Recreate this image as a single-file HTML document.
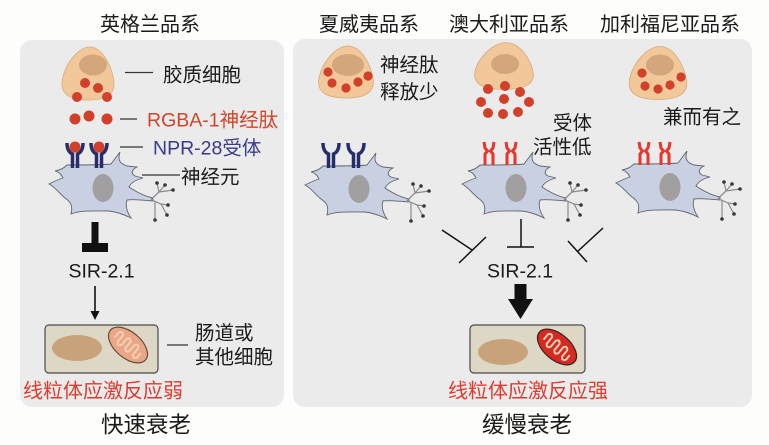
<!DOCTYPE html>
<html><head><meta charset="utf-8"><style>
html,body{margin:0;padding:0;background:#fdfdfb;}
svg{display:block;}
text{font-family:"Liberation Sans","Noto Sans CJK SC",sans-serif;fill:#1a1a1a;}
</style></head><body>
<svg width="769" height="445" viewBox="0 0 769 445" xmlns="http://www.w3.org/2000/svg">
<defs>
  <g id="neuron">
    <path d="M -36,-23 C -20,-23 0,-23 8,-24 L 17,-36 C 14,-27 18,-24 24,-22 L 34,-21 C 28,-18 28,-14 32,-12 L 40,-10 C 32,-8 28,-5 26,-1 C 32,3 40,8 50,10 L 50,13 C 40,12 30,11 24,12 C 22,18 24,24 28,30 C 20,26 14,24 6,23 C -10,23 -22,22 -32,26 C -30,18 -32,14 -38,10 C -44,5 -48,-1 -54,-4 C -48,-7 -44,-9 -40,-10 C -42,-14 -44,-16 -48,-17 C -42,-18 -39,-20 -36,-23 Z" fill="#c9d0e2" stroke="#5f646e" stroke-width="0.9"/>
    <ellipse cx="0" cy="0" rx="10.5" ry="14" fill="#a19f9f"/>
    <g stroke="#8a8a8a" stroke-width="1.2" fill="none">
      <path d="M 48,11.5 L 56,4 L 54,-5"/>
      <path d="M 56,4 L 62,-3"/>
      <path d="M 56,4 L 70,2"/>
      <path d="M 48,11.5 L 58,16 L 65,17"/>
      <path d="M 58,16 L 64,27"/>
      <path d="M 52,13 L 52,32"/>
    </g>
    <g fill="#3a3530">
      <circle cx="54" cy="-5" r="1.8"/><circle cx="62" cy="-3" r="1.8"/><circle cx="70" cy="2" r="1.8"/>
      <circle cx="65" cy="17" r="1.8"/><circle cx="64" cy="27" r="1.8"/><circle cx="52" cy="32" r="1.8"/>
    </g>
  </g>
  <g id="yrec">
    <path d="M -8,0 C -8,7 -5,10 -2.5,11 L -2.5,25 M 8,0 C 8,7 5,10 2.5,11 L 2.5,25" fill="none" stroke="#262d6b" stroke-width="3.5"/>
  </g>
  <g id="rrec">
    <path d="M -5,0 L -4,6 L -1.5,9 L -4,12 L -4,23 M 5,0 L 4,6 L 1.5,9 L 4,12 L 4,23" fill="none" stroke="#e8342b" stroke-width="3"/>
  </g>
  <path id="glia" d="M 2,-26 C 14,-26 24,-10 27,6 C 30,22 16,26 0,26 C -16,26 -30,22 -27,6 C -24,-10 -10,-26 2,-26 Z" fill="#f2c89a" stroke="#d9a878" stroke-width="0.8"/>
  <path id="crist" d="M -15,3 L -15,-4 Q -12.5,-8 -10,-4 L -10,4 Q -7.5,8 -5,4 L -5,-4 Q -2.5,-8 0,-4 L 0,4 Q 2.5,8 5,4 L 5,-4 Q 7.5,-8 10,-4 L 10,4 Q 12.5,8 15,4 L 15,-2" fill="none" stroke-width="2"/>
</defs>

<rect x="0" y="0" width="769" height="445" fill="#fdfdfb"/>
<!-- panels -->
<rect x="20" y="40" width="264" height="367" rx="12" fill="#ebebeb"/>
<rect x="293" y="39" width="459" height="368" rx="12" fill="#ebebeb"/>

<!-- titles -->
<text x="150" y="31" font-size="20" text-anchor="middle">英格兰品系</text>
<text x="369" y="31" font-size="20" text-anchor="middle">夏威夷品系</text>
<text x="509" y="31" font-size="20" text-anchor="middle">澳大利亚品系</text>
<text x="670" y="31" font-size="20" text-anchor="middle">加利福尼亚品系</text>

<!-- LEFT PANEL -->
<use href="#glia" transform="translate(88,73.5) scale(0.95,1.02)"/>
<ellipse cx="93" cy="65" rx="14" ry="10.5" fill="#d4a67b"/>
<g fill="#d2402a">
  <circle cx="85" cy="83" r="5"/><circle cx="98" cy="88" r="5"/><circle cx="77" cy="97" r="5"/><circle cx="107" cy="97" r="5"/>
  <circle cx="75" cy="119" r="5.5"/><circle cx="89" cy="116" r="5.5"/><circle cx="107" cy="119" r="5.5"/>
</g>
<use href="#neuron" transform="translate(103,188)"/>
<use href="#yrec" transform="translate(75,143)"/>
<use href="#yrec" transform="translate(99,143)"/>
<circle cx="75" cy="147" r="5.5" fill="#d2402a"/>
<circle cx="99" cy="147" r="5.5" fill="#d2402a"/>

<g stroke="#333" stroke-width="1.2">
  <line x1="125" y1="72.5" x2="153" y2="72.5"/>
  <line x1="120" y1="119" x2="137" y2="119"/>
  <line x1="120" y1="147" x2="143" y2="147"/>
  <line x1="142" y1="175" x2="180" y2="175"/>
  <line x1="167" y1="345" x2="188" y2="345"/>
</g>
<text x="163" y="81.5" font-size="19.5">胶质细胞</text>
<text x="147" y="126.5" font-size="19.5" style="fill:#d2452a">RGBA-1神经肽</text>
<text x="153" y="154.5" font-size="19.5" style="fill:#3b3a8c">NPR-28受体</text>
<text x="181" y="183.5" font-size="19.5">神经元</text>

<!-- thick inhibition T -->
<rect x="91.5" y="222" width="7" height="23" fill="#111"/>
<rect x="82" y="243" width="26" height="9" fill="#111"/>
<text x="101.5" y="277.5" font-size="19.5" text-anchor="middle">SIR-2.1</text>
<line x1="95" y1="286" x2="95" y2="312" stroke="#111" stroke-width="1.6"/>
<polygon points="90.5,311 99.5,311 95,320" fill="#111"/>

<!-- gut cell left -->
<rect x="45" y="325" width="113" height="48" rx="4" fill="#dcd8c5" stroke="#4a4a4a" stroke-width="1.2"/>
<ellipse cx="77" cy="348" rx="25" ry="13" fill="#c7a27a"/>
<g transform="translate(128,345) rotate(40)">
  <ellipse cx="0" cy="0" rx="23" ry="13" fill="#e8a888" stroke="#6a4a3a" stroke-width="1.2"/>
  <use href="#crist" stroke="#f6cdb0"/>
</g>
<text x="195" y="339.5" font-size="19.5">肠道或</text>
<text x="195" y="363.5" font-size="19.5">其他细胞</text>
<text x="23" y="397.5" font-size="20" style="fill:#e03a2e">线粒体应激反应弱</text>
<text x="146" y="432.5" font-size="22.5" text-anchor="middle">快速衰老</text>

<!-- RIGHT PANEL -->
<!-- Hawaii -->
<use href="#glia" transform="translate(346,72)"/>
<ellipse cx="348" cy="65" rx="16" ry="11" fill="#d4a67b"/>
<g fill="#d2402a">
  <circle cx="328" cy="72" r="4.6"/><circle cx="332" cy="83" r="4.6"/><circle cx="346" cy="88" r="4.6"/><circle cx="358" cy="82" r="4.6"/><circle cx="368" cy="76" r="4.6"/>
</g>
<text x="380" y="71.5" font-size="19.5">神经肽</text>
<text x="380" y="98.5" font-size="19.5">释放少</text>
<use href="#neuron" transform="translate(359,189)"/>
<use href="#yrec" transform="translate(331,143)"/>
<use href="#yrec" transform="translate(356,143)"/>

<!-- Australia -->
<use href="#glia" transform="translate(504,66) scale(1.07,0.9)"/>
<ellipse cx="505" cy="64" rx="14" ry="10" fill="#d4a67b"/>
<g fill="#d2402a">
  <circle cx="488" cy="89" r="5"/><circle cx="505" cy="86" r="5"/><circle cx="520" cy="92" r="5"/>
  <circle cx="481" cy="102" r="5"/><circle cx="504" cy="99" r="5"/><circle cx="529" cy="102" r="5"/>
  <circle cx="488" cy="113" r="5"/><circle cx="503" cy="114" r="5"/><circle cx="518" cy="112" r="5"/>
</g>
<text x="553" y="129.5" font-size="19.5">受体</text>
<text x="533" y="153.5" font-size="19.5">活性低</text>
<use href="#neuron" transform="translate(516,188)"/>
<use href="#rrec" transform="translate(489,142)"/>
<use href="#rrec" transform="translate(511,142)"/>

<!-- California -->
<use href="#glia" transform="translate(658,73) scale(1.05,1.02)"/>
<ellipse cx="660" cy="65" rx="14" ry="10.5" fill="#d4a67b"/>
<g fill="#d2402a">
  <circle cx="642" cy="73" r="4.6"/><circle cx="645" cy="86" r="4.6"/><circle cx="658" cy="89" r="4.6"/><circle cx="670" cy="85" r="4.6"/><circle cx="681" cy="77" r="4.6"/>
</g>
<text x="663" y="123.5" font-size="19.5">兼而有之</text>
<use href="#neuron" transform="translate(670,187)"/>
<use href="#rrec" transform="translate(644,142)"/>
<use href="#rrec" transform="translate(665,142)"/>

<!-- inhibition lines -->
<g stroke="#111" stroke-width="1.5" fill="none">
  <line x1="442" y1="230" x2="472" y2="250"/>
  <line x1="459" y1="263" x2="486" y2="237"/>
  <line x1="521" y1="219" x2="521" y2="247"/>
  <line x1="507" y1="247" x2="534" y2="247"/>
  <line x1="603" y1="228" x2="577" y2="252"/>
  <line x1="568" y1="241" x2="587" y2="262"/>
</g>
<text x="520" y="277.5" font-size="19.5" text-anchor="middle">SIR-2.1</text>
<rect x="514.5" y="284" width="12" height="16" fill="#111"/>
<polygon points="508,299 533,299 520.5,319" fill="#111"/>

<!-- gut cell right -->
<rect x="470" y="325" width="115" height="48" rx="4" fill="#dcd8c5" stroke="#4a4a4a" stroke-width="1.2"/>
<ellipse cx="503" cy="352" rx="25" ry="13" fill="#c7a27a"/>
<g transform="translate(557,347) rotate(40)">
  <ellipse cx="0" cy="0" rx="23" ry="13" fill="#d42a22" stroke="#3a2020" stroke-width="1.2"/>
  <use href="#crist" stroke="#f2cdb4"/>
</g>
<text x="448" y="397.5" font-size="20" style="fill:#e03a2e">线粒体应激反应强</text>
<text x="527" y="432.5" font-size="22.5" text-anchor="middle">缓慢衰老</text>
</svg>
</body></html>
